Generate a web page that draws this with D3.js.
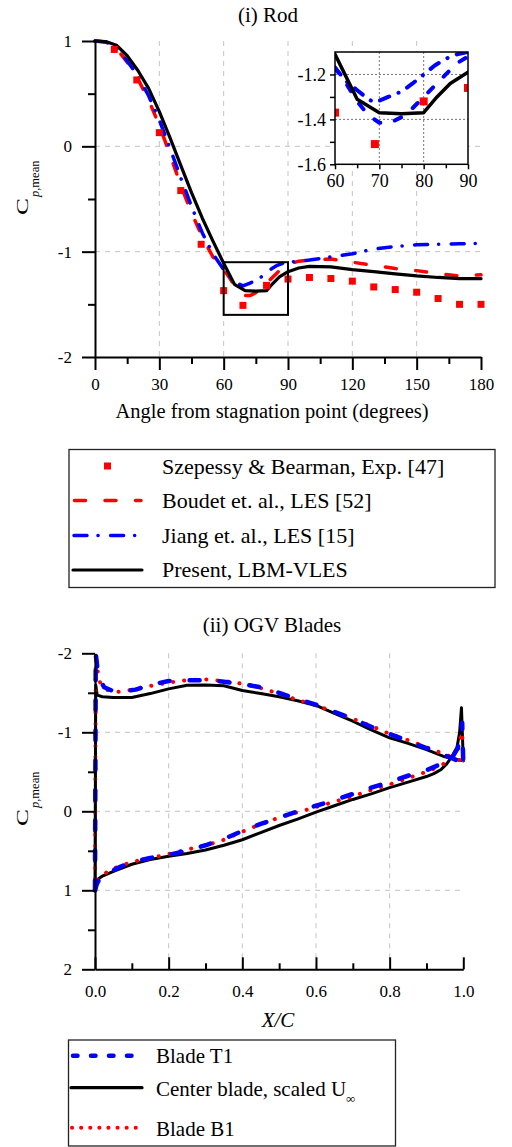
<!DOCTYPE html>
<html><head><meta charset="utf-8">
<script src="https://cdn.jsdelivr.net/npm/d3@7"></script>
<style>
html,body{margin:0;padding:0;background:#fff;}
svg{display:block;}
text{font-family:"Liberation Serif","Times New Roman",serif;fill:#000;}
</style></head><body>
<svg id="c" width="512" height="1147"></svg>
<script>
// ---------- (i) Rod data ----------
const expAngle = [9,19.5,30,40,49.5,60,69,80,90,100,110,120,130,140,150,160,170,180];
const expCp    = [0.92,0.63,0.13,-0.42,-0.93,-1.37,-1.51,-1.32,-1.26,-1.245,-1.255,-1.28,-1.335,-1.36,-1.385,-1.445,-1.5,-1.5];

const boudetAngle = [0,5,10,15,20,25,30,35,40,45,50,55,60,62.5,65,67.5,70,72.5,75,77.5,80,82.5,85,87.5,90,95,100,110,120,130,140,150,160,170,180];
const boudetCp    = [1.0,0.99,0.93,0.8,0.64,0.44,0.2,-0.08,-0.37,-0.63,-0.86,-1.05,-1.17,-1.24,-1.32,-1.38,-1.415,-1.415,-1.39,-1.35,-1.3,-1.25,-1.2,-1.15,-1.12,-1.09,-1.08,-1.07,-1.1,-1.13,-1.16,-1.18,-1.21,-1.23,-1.22];

const jiangAngle = [0,5,10,15,20,25,30,35,40,45,50,55,60,62.5,65,67.5,69,72,75,77.5,80,82.5,85,87.5,90,100,110,120,130,140,150,160,170,180];
const jiangCp    = [1.0,0.99,0.94,0.81,0.67,0.48,0.25,-0.02,-0.3,-0.57,-0.82,-1.02,-1.17,-1.23,-1.27,-1.31,-1.325,-1.3,-1.276,-1.24,-1.2,-1.16,-1.13,-1.11,-1.1,-1.08,-1.05,-1.02,-0.975,-0.95,-0.935,-0.93,-0.925,-0.92];

const presentAngle = [0,5,10,15,20,25,30,35,40,45,50,55,60,65,70,75,80,83,86,90,95,100,110,120,130,140,150,160,170,180];
const presentCp    = [1.0,0.995,0.96,0.86,0.72,0.55,0.33,0.08,-0.18,-0.44,-0.68,-0.9,-1.11,-1.31,-1.37,-1.375,-1.37,-1.3,-1.24,-1.19,-1.155,-1.14,-1.145,-1.17,-1.19,-1.21,-1.23,-1.245,-1.255,-1.256];

const rodXTicks = [0,30,60,90,120,150,180];
const rodYTicks = [-2,-1,0,1];
const insetXTicks = [60,70,80,90];
const insetYTicks = [-1.6,-1.4,-1.2];
const rodLegend = ["Szepessy & Bearman, Exp. [47]","Boudet et. al., LES [52]","Jiang et. al., LES [15]","Present, LBM-VLES"];

// ---------- (ii) OGV data ----------
const centerSucX  = [0,0.002,0.006,0.02,0.05,0.1,0.15,0.2,0.25,0.3,0.35,0.4,0.45,0.5,0.55,0.6,0.65,0.7,0.75,0.8,0.85,0.9,0.95,0.98,1.0];
const centerSucCp = [1.0,-1.6,-1.47,-1.45,-1.44,-1.44,-1.49,-1.55,-1.595,-1.6,-1.59,-1.53,-1.49,-1.45,-1.4,-1.34,-1.24,-1.14,-1.03,-0.93,-0.86,-0.78,-0.69,-0.66,-0.64];
const centerPreX  = [0,0.008,0.02,0.05,0.1,0.15,0.2,0.25,0.3,0.35,0.4,0.45,0.5,0.55,0.6,0.65,0.7,0.75,0.8,0.85,0.9,0.92,0.94,0.955,0.97,0.983,0.99,0.995,1.0];
const centerPreCp = [1.0,0.86,0.82,0.76,0.67,0.61,0.57,0.535,0.49,0.43,0.36,0.27,0.18,0.1,0.01,-0.07,-0.15,-0.22,-0.3,-0.37,-0.44,-0.477,-0.53,-0.6,-0.7,-0.81,-1.0,-1.31,-0.64];

const t1SucX  = [0,0.002,0.008,0.014,0.025,0.05,0.08,0.11,0.15,0.2,0.25,0.3,0.35,0.4,0.45,0.5,0.55,0.6,0.65,0.7,0.75,0.8,0.85,0.9,0.95,0.98,1.0];
const t1SucCp = [1.0,-2.0,-1.75,-1.66,-1.57,-1.52,-1.52,-1.54,-1.6,-1.65,-1.66,-1.66,-1.64,-1.61,-1.57,-1.5,-1.42,-1.35,-1.26,-1.17,-1.07,-0.98,-0.89,-0.8,-0.71,-0.65,-0.6];
const t1PreX  = [0,0.005,0.015,0.04,0.07,0.1,0.15,0.2,0.25,0.3,0.35,0.4,0.45,0.5,0.55,0.6,0.65,0.7,0.75,0.8,0.85,0.9,0.94,0.97,0.985,0.997,1.0];
const t1PreCp = [1.0,0.92,0.83,0.77,0.7,0.64,0.59,0.55,0.5,0.43,0.35,0.25,0.16,0.08,0.0,-0.07,-0.14,-0.22,-0.3,-0.37,-0.45,-0.52,-0.6,-0.68,-0.8,-1.12,-0.6];

const b1SucX  = [0,0.002,0.006,0.014,0.03,0.06,0.08,0.1,0.13,0.2,0.25,0.3,0.35,0.42,0.45,0.5,0.55,0.6,0.65,0.7,0.75,0.8,0.85,0.9,0.95,0.98,1.0];
const b1SucCp = [1.0,-2.0,-1.8,-1.63,-1.54,-1.51,-1.52,-1.54,-1.57,-1.63,-1.66,-1.67,-1.65,-1.6,-1.56,-1.49,-1.41,-1.34,-1.26,-1.17,-1.08,-0.98,-0.9,-0.81,-0.72,-0.67,-0.62];
const b1PreX  = [0,0.004,0.015,0.032,0.058,0.1,0.155,0.2,0.245,0.29,0.34,0.384,0.43,0.475,0.52,0.567,0.612,0.657,0.7,0.75,0.8,0.85,0.9,0.94,0.97,0.985,0.997,1.0];
const b1PreCp = [1.0,0.88,0.84,0.77,0.71,0.64,0.59,0.54,0.49,0.44,0.38,0.29,0.2,0.12,0.05,-0.01,-0.07,-0.13,-0.19,-0.27,-0.34,-0.42,-0.5,-0.58,-0.67,-0.78,-1.0,-0.62];

const ogvXTicks = [0,0.2,0.4,0.6,0.8,1.0];
const ogvYTicks = [-2,-1,0,1,2];
const ogvLegend = ["Blade T1","Center blade, scaled U","Blade B1"];

// ---------- drawing ----------
const zip = (a,b) => a.map((v,i)=>[v,b[i]]);
const svg = d3.select("#c");
const GRID = "#c4c4c4";
const SERIF = '"Liberation Serif","Times New Roman",serif';

const BLACK = {stroke:"#000", w:3.2, dash:null};
const RED_DASH = {stroke:"#ff0000", w:3.5, dash:"11 19.5"};
const BLUE_DD = {stroke:"#0000ff", w:3.5, dash:"13 11 0.1 12.5"};

function drawPath(g, data, line, st, cap){
  const p = g.append("path").datum(data).attr("d", line)
    .attr("fill","none").attr("stroke", st.stroke).attr("stroke-width", st.w)
    .attr("stroke-linejoin","round").attr("stroke-linecap", cap || "round");
  if (st.dash) p.attr("stroke-dasharray", st.dash);
  return p;
}
function styleAxis(g, w, fs){
  g.attr("font-family", SERIF);
  g.select(".domain").attr("stroke","#000").attr("stroke-width", w);
  g.selectAll(".tick line").attr("stroke","#000").attr("stroke-width", w);
  g.selectAll(".tick text").style("font-family", SERIF).style("font-size", (fs||17)+"px").attr("fill","#000");
}
function yLabel(bottomY){
  svg.append("text").attr("transform",`translate(28,${bottomY}) rotate(-90) scale(1.5,1)`)
    .attr("font-size",17).text("C");
  const s = svg.append("text").attr("transform",`translate(38.5,${bottomY-18}) rotate(-90)`).attr("font-size",12.5);
  s.append("tspan").attr("font-style","italic").text("p");
  s.append("tspan").text(",mean");
}

// ===== Chart (i) =====
const xR = d3.scaleLinear().domain([0,180]).range([95,481]);
const yR = d3.scaleLinear().domain([-2,1]).range([357,41]);

svg.append("text").attr("x",268).attr("y",22).attr("text-anchor","middle").attr("font-size",21).text("(i) Rod");

const gridR = svg.append("g");
[30,60,90,120,150].forEach(v=>{
  gridR.append("line").attr("x1",xR(v)).attr("x2",xR(v)).attr("y1",yR(1)).attr("y2",yR(-2))
    .attr("stroke",GRID).attr("stroke-width",1).attr("stroke-dasharray","5 5");
});
[0,-1].forEach(v=>{
  gridR.append("line").attr("x1",xR(0)).attr("x2",xR(180)).attr("y1",yR(v)).attr("y2",yR(v))
    .attr("stroke",GRID).attr("stroke-width",1).attr("stroke-dasharray","5 5");
});

const lineR = d3.line().x(d=>xR(d[0])).y(d=>yR(d[1]));
const gR = svg.append("g");
drawPath(gR, zip(boudetAngle,boudetCp), lineR, RED_DASH);
drawPath(gR, zip(jiangAngle,jiangCp), lineR, BLUE_DD);
drawPath(gR, zip(presentAngle,presentCp), lineR, BLACK);
gR.selectAll("rect.exp").data(zip(expAngle,expCp)).enter().append("rect")
  .attr("x",d=>xR(d[0])-3.5).attr("y",d=>yR(d[1])-3.5).attr("width",7).attr("height",7).attr("fill","#ff0000");

// zoom box
svg.append("rect").attr("x",xR(60)).attr("y",yR(-1.1)).attr("width",xR(90)-xR(60)).attr("height",yR(-1.6)-yR(-1.1))
  .attr("fill","none").attr("stroke","#000").attr("stroke-width",2);

// axes
const axYR = svg.append("g").attr("transform",`translate(${xR(0)},0)`)
  .call(d3.axisLeft(yR).tickValues(rodYTicks).tickSize(13).tickSizeOuter(0).tickPadding(10).tickFormat(d=>String(d)));
styleAxis(axYR,2);
const axYRm = svg.append("g").attr("transform",`translate(${xR(0)},0)`)
  .call(d3.axisLeft(yR).tickValues([-1.5,-0.5,0.5]).tickSize(7).tickSizeOuter(0).tickFormat(""));
styleAxis(axYRm,2); axYRm.select(".domain").remove();
const axXR = svg.append("g").attr("transform",`translate(0,${yR(-2)})`)
  .call(d3.axisBottom(xR).tickValues(rodXTicks).tickSize(13).tickSizeOuter(0).tickPadding(8).tickFormat(d=>String(d)));
styleAxis(axXR,2);
const axXRm = svg.append("g").attr("transform",`translate(0,${yR(-2)})`)
  .call(d3.axisBottom(xR).tickValues([15,45,75,105,135,165]).tickSize(7).tickSizeOuter(0).tickFormat(""));
styleAxis(axXRm,2); axXRm.select(".domain").remove();

svg.append("text").attr("x",272).attr("y",418).attr("text-anchor","middle").attr("font-size",20.5)
  .text("Angle from stagnation point (degrees)");
yLabel(215);

// ===== Inset =====
const xI = d3.scaleLinear().domain([60,90]).range([335,468]);
const yI = d3.scaleLinear().domain([-1.6,-1.1]).range([164.3,52]);
svg.append("rect").attr("x",xI(60)).attr("y",yI(-1.1)).attr("width",xI(90)-xI(60)).attr("height",yI(-1.6)-yI(-1.1)).attr("fill","#fff");
svg.append("defs").append("clipPath").attr("id","clipI").append("rect")
  .attr("x",xI(60)).attr("y",yI(-1.1)).attr("width",xI(90)-xI(60)).attr("height",yI(-1.6)-yI(-1.1));
const gI = svg.append("g");
[70,80].forEach(v=>gI.append("line").attr("x1",xI(v)).attr("x2",xI(v)).attr("y1",yI(-1.1)).attr("y2",yI(-1.6))
  .attr("stroke","#777").attr("stroke-width",1).attr("stroke-dasharray","2 2"));
[-1.2,-1.4].forEach(v=>gI.append("line").attr("x1",xI(60)).attr("x2",xI(90)).attr("y1",yI(v)).attr("y2",yI(v))
  .attr("stroke","#777").attr("stroke-width",1).attr("stroke-dasharray","2 2"));
const lineI = d3.line().x(d=>xI(d[0])).y(d=>yI(d[1]));
const gIc = svg.append("g").attr("clip-path","url(#clipI)");
drawPath(gIc, zip(boudetAngle,boudetCp), lineI, {stroke:"#0000ff", w:4, dash:"7 15"});
drawPath(gIc, zip(jiangAngle,jiangCp), lineI, {stroke:"#0000ff", w:4, dash:"10 10 0.1 10"});
drawPath(gIc, zip(presentAngle,presentCp), lineI, {stroke:"#000", w:3.5, dash:null});
gIc.selectAll("rect.exp").data(zip(expAngle,expCp)).enter().append("rect")
  .attr("x",d=>xI(d[0])-4).attr("y",d=>yI(d[1])-4).attr("width",8).attr("height",8).attr("fill","#ff0000");
// inset frame
svg.append("rect").attr("x",xI(60)).attr("y",yI(-1.1)).attr("width",xI(90)-xI(60)).attr("height",yI(-1.6)-yI(-1.1))
  .attr("fill","none").attr("stroke","#000").attr("stroke-width",1.5);
const axYI = svg.append("g").attr("transform",`translate(${xI(60)},0)`)
  .call(d3.axisLeft(yI).tickValues(insetYTicks).tickSize(5).tickSizeOuter(0).tickPadding(4).tickFormat(d=>d.toFixed(1)));
styleAxis(axYI,1.5,18); axYI.select(".domain").remove();
const axYIm = svg.append("g").attr("transform",`translate(${xI(60)},0)`)
  .call(d3.axisLeft(yI).tickValues([-1.5,-1.3]).tickSize(5).tickSizeOuter(0).tickFormat(""));
styleAxis(axYIm,1.5); axYIm.select(".domain").remove();
const axXI = svg.append("g").attr("transform",`translate(0,${yI(-1.6)})`)
  .call(d3.axisBottom(xI).tickValues(insetXTicks).tickSize(5).tickSizeOuter(0).tickPadding(5).tickFormat(d=>String(d)));
styleAxis(axXI,1.5,18); axXI.select(".domain").remove();
const axXIm = svg.append("g").attr("transform",`translate(0,${yI(-1.6)})`)
  .call(d3.axisBottom(xI).tickValues([65,75,85]).tickSize(4).tickSizeOuter(0).tickFormat(""));
styleAxis(axXIm,1.5); axXIm.select(".domain").remove();

// ===== Legend (i) =====
const L1 = svg.append("g");
L1.append("rect").attr("x",69).attr("y",449.5).attr("width",426).attr("height",138).attr("fill","#fff").attr("stroke","#222").attr("stroke-width",1.3);
const l1Base = [474,508,543,577];
const l1Sym = [466,500.5,535.5,570];
rodLegend.forEach((t,i)=>L1.append("text").attr("x",162).attr("y",l1Base[i]).attr("font-size",22).text(t));
L1.append("rect").attr("x",104).attr("y",l1Sym[0]-3.5).attr("width",7).attr("height",7).attr("fill","#ff0000");
const legLine = (y, st, x1, x2) => drawPath(L1, [[x1,y],[x2,y]], d3.line(), st);
legLine(l1Sym[1], RED_DASH, 74.5, 141);
legLine(l1Sym[2], BLUE_DD, 74, 141);
legLine(l1Sym[3], BLACK, 73, 142);

// ===== Chart (ii) =====
const xB = d3.scaleLinear().domain([0,1]).range([95,463.3]);
const yB = d3.scaleLinear().domain([-2,2]).range([653.3,969.3]);
svg.append("text").attr("x",272).attr("y",632).attr("text-anchor","middle").attr("font-size",21).text("(ii) OGV Blades");

const gridB = svg.append("g");
[0.2,0.4,0.6,0.8].forEach(v=>gridB.append("line").attr("x1",xB(v)).attr("x2",xB(v)).attr("y1",yB(-2)).attr("y2",yB(2))
  .attr("stroke",GRID).attr("stroke-width",1).attr("stroke-dasharray","5 5"));
[-1,0,1].forEach(v=>gridB.append("line").attr("x1",xB(0)).attr("x2",xB(1)).attr("y1",yB(v)).attr("y2",yB(v))
  .attr("stroke",GRID).attr("stroke-width",1).attr("stroke-dasharray","5 5"));

const lineB = d3.line().x(d=>xB(d[0])).y(d=>yB(d[1]));
const gB = svg.append("g");
const CENTER = {stroke:"#000", w:3, dash:null};
const RED_DOT = {stroke:"#ff0000", w:4, dash:"0.1 11"};
const BLUE_DASH = {stroke:"#0000ff", w:4.5, dash:"10 20"};
drawPath(gB, zip(centerSucX,centerSucCp), lineB, CENTER);
drawPath(gB, zip(centerPreX,centerPreCp), lineB, CENTER);
drawPath(gB, zip(b1SucX,b1SucCp), lineB, RED_DOT);
drawPath(gB, zip(b1PreX,b1PreCp), lineB, RED_DOT);
drawPath(gB, zip(t1SucX,t1SucCp), lineB, BLUE_DASH);
drawPath(gB, zip(t1PreX,t1PreCp), lineB, BLUE_DASH);

const axYB = svg.append("g").attr("transform",`translate(${xB(0)},0)`)
  .call(d3.axisLeft(yB).tickValues(ogvYTicks).tickSize(13).tickSizeOuter(0).tickPadding(10).tickFormat(d=>String(d)));
styleAxis(axYB,2);
const axYBm = svg.append("g").attr("transform",`translate(${xB(0)},0)`)
  .call(d3.axisLeft(yB).tickValues([-1.5,-0.5,0.5,1.5]).tickSize(7).tickSizeOuter(0).tickFormat(""));
styleAxis(axYBm,2); axYBm.select(".domain").remove();
const axXB = svg.append("g").attr("transform",`translate(0,${yB(2)})`)
  .call(d3.axisBottom(xB).tickValues(ogvXTicks).tickSize(-12).tickSizeOuter(0).tickPadding(16).tickFormat(d=>d.toFixed(1)));
styleAxis(axXB,2);
const axXBm = svg.append("g").attr("transform",`translate(0,${yB(2)})`)
  .call(d3.axisBottom(xB).tickValues([0.1,0.3,0.5,0.7,0.9]).tickSize(-6).tickSizeOuter(0).tickFormat(""));
styleAxis(axXBm,2); axXBm.select(".domain").remove();

svg.append("text").attr("x",278).attr("y",1027).attr("text-anchor","middle").attr("font-size",21)
  .attr("font-style","italic").text("X/C");
yLabel(826);

// ===== Legend (ii) =====
const L2 = svg.append("g");
L2.append("rect").attr("x",68.5).attr("y",1040).attr("width",327).attr("height",106).attr("fill","#fff").attr("stroke","#222").attr("stroke-width",1.3);
const l2Base = [1063,1096,1136];
const l2Sym = [1055.7,1087.7,1127.7];
ogvLegend.forEach((t,i)=>{
  const tx = L2.append("text").attr("x",156).attr("y",l2Base[i]).attr("font-size",21).text(t);
  if (i===1) tx.append("tspan").attr("font-size",13).attr("dy",7).text("∞");
});
drawPath(L2, [[73,l2Sym[0]],[140,l2Sym[0]]], d3.line(), {stroke:"#0000ff", w:4.5, dash:"4.5 13.5"});
drawPath(L2, [[71,l2Sym[1]],[142,l2Sym[1]]], d3.line(), {stroke:"#000", w:3.2, dash:null});
drawPath(L2, [[72,l2Sym[2]],[140,l2Sym[2]]], d3.line(), {stroke:"#ff0000", w:4, dash:"0.1 9"});
</script></body></html>
